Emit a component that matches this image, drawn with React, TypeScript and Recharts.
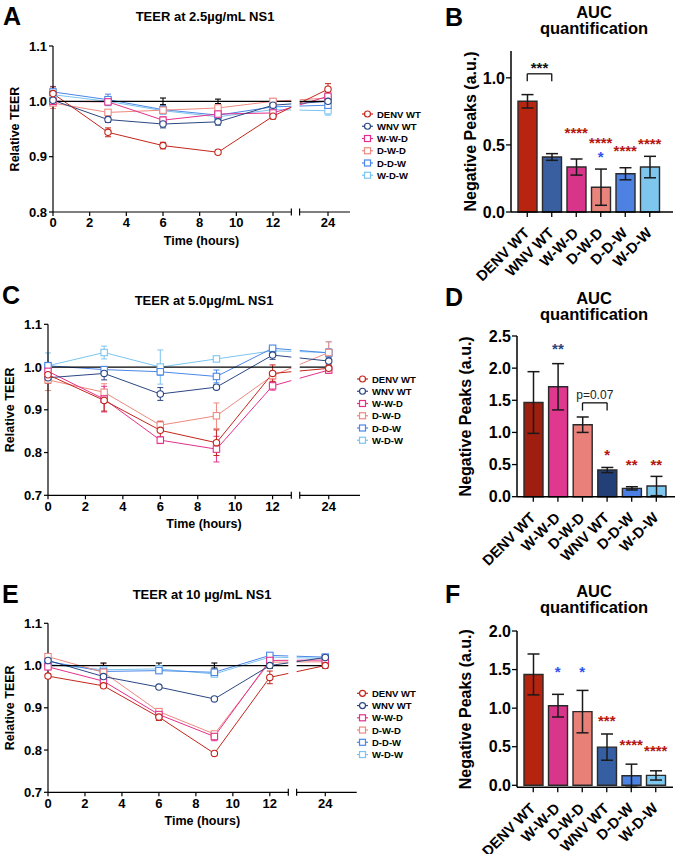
import React from 'react';
import {
  ComposedChart, Line, Bar, Cell, XAxis, YAxis, ErrorBar, Label,
  ReferenceArea, ReferenceLine, ReferenceDot,
} from 'recharts';

const FONT = '"Liberation Sans", Arial, Helvetica, sans-serif';

// ---------------- TEER time courses ----------------
const hours = [0, 3, 6, 9, 12, 24];
const strains = ['DENV WT', 'WNV WT', 'W-W-D', 'D-W-D', 'D-D-W', 'W-D-W'];
const mock = [1, 1, 1, 1, 1, 1];

// 2.5 µg/mL NS1 (rows follow `strains`)
const teer25 = [
  [1.014, 0.944, 0.920, 0.908, 0.973, 1.022],
  [1.002, 0.967, 0.959, 0.963, 0.993, 1.000],
  [1.000, 0.999, 0.966, 0.977, 0.979, 1.009],
  [0.997, 0.980, 0.984, 0.988, 1.000, 1.006],
  [1.017, 1.003, 0.985, 0.975, 0.990, 0.993],
  [1.012, 1.000, 0.983, 0.972, 0.985, 0.983],
];
const teer25Err = [
  [0.012, 0.008, 0.006, 0.004, 0.005, 0.010],
  [0.006, 0.005, 0.007, 0.006, 0.006, 0.006],
  [0.005, 0.004, 0.006, 0.006, 0.005, 0.008],
  [0.010, 0.004, 0.004, 0.004, 0.004, 0.006],
  [0.010, 0.010, 0.008, 0.006, 0.006, 0.006],
  [0.008, 0.008, 0.005, 0.005, 0.005, 0.008],
];
const mock25Err = [0.005, 0.005, 0.006, 0.004, 0.005, 0.005];

// 5.0 µg/mL NS1
const teer50 = [
  [0.982, 0.922, 0.852, 0.823, 0.985, 0.997],
  [0.975, 0.985, 0.937, 0.953, 1.028, 1.014],
  [0.990, 0.925, 0.829, 0.808, 0.956, 0.993],
  [0.970, 0.941, 0.864, 0.886, 0.980, 1.034],
  [1.003, 0.994, 0.989, 0.978, 1.044, 1.033],
  [1.003, 1.034, 1.000, 1.019, 1.038, 1.034],
];
const teer50Err = [
  [0.020, 0.025, 0.020, 0.030, 0.020, 0.008],
  [0.010, 0.015, 0.015, 0.005, 0.010, 0.010],
  [0.020, 0.030, 0.008, 0.030, 0.010, 0.008],
  [0.025, 0.020, 0.010, 0.030, 0.010, 0.025],
  [0.008, 0.005, 0.008, 0.015, 0.005, 0.010],
  [0.030, 0.015, 0.040, 0.005, 0.005, 0.025],
];
const mock50Err = [0, 0, 0, 0, 0, 0];

// 10 µg/mL NS1
const teer10 = [
  [0.975, 0.952, 0.878, 0.792, 0.972, 1.000],
  [1.012, 0.974, 0.949, 0.921, 1.000, 1.019],
  [0.997, 0.963, 0.884, 0.832, 1.012, 1.013],
  [1.021, 0.984, 0.891, 0.838, 1.008, 1.009],
  [1.010, 0.986, 0.988, 0.984, 1.024, 1.020],
  [1.003, 0.990, 0.992, 0.980, 1.020, 1.017],
];
const teer10Err = [
  [0.004, 0.004, 0.008, 0.004, 0.015, 0.004],
  [0.005, 0.005, 0.003, 0.003, 0.005, 0.006],
  [0.005, 0.005, 0.008, 0.010, 0.010, 0.005],
  [0.005, 0.020, 0.005, 0.005, 0.015, 0.005],
  [0.005, 0.005, 0.005, 0.005, 0.005, 0.005],
  [0.004, 0.004, 0.004, 0.004, 0.004, 0.004],
];
const mock10Err = [0.006, 0.006, 0.006, 0.006, 0.006, 0.006];

// ---------------- AUC bars ----------------
const groupsB = ['DENV WT', 'WNV WT', 'W-W-D', 'D-W-D', 'D-D-W', 'W-D-W'];
const aucB = [0.825, 0.41, 0.335, 0.185, 0.285, 0.335];
const aucBErr = [0.05, 0.025, 0.06, 0.135, 0.045, 0.08];

const groupsDF = ['DENV WT', 'W-W-D', 'D-W-D', 'WNV WT', 'D-D-W', 'W-D-W'];
const aucD = [1.465, 1.71, 1.12, 0.415, 0.13, 0.166];
const aucDErr = [0.48, 0.36, 0.12, 0.04, 0.025, 0.15];
const aucF = [1.437, 1.032, 0.955, 0.495, 0.124, 0.128];
const aucFErr = [0.265, 0.147, 0.275, 0.17, 0.15, 0.06];

// significance marks: [group, height (a.u.), stars, tone]
type Sig = [string, number, string, string];
const sigB: Sig[] = [
  ['W-W-D', 0.59, '****', 'r'],
  ['D-W-D', 0.515, '****', 'r'],
  ['D-W-D', 0.41, '*', 'b'],
  ['D-D-W', 0.455, '****', 'r'],
  ['W-D-W', 0.51, '****', 'r'],
];
const sigD: Sig[] = [
  ['W-W-D', 2.31, '**', 'n'],
  ['WNV WT', 0.65, '*', 'r'],
  ['D-D-W', 0.5, '**', 'r'],
  ['W-D-W', 0.5, '**', 'r'],
];
const sigF: Sig[] = [
  ['W-W-D', 1.47, '*', 'b'],
  ['D-W-D', 1.47, '*', 'b'],
  ['WNV WT', 0.835, '***', 'r'],
  ['D-D-W', 0.53, '****', 'r'],
  ['W-D-W', 0.45, '****', 'r'],
];
// brackets: [from, to, height, leg end, label]
type Bracket = [string, string, number, number, string];
const bracketB: Bracket = ['DENV WT', 'WNV WT', 1.03, 0.975, '***'];
const bracketD: Bracket = ['D-W-D', 'WNV WT', 1.46, 1.34, 'p=0.07'];

// ---------------- styles ----------------
const lineColor = ['#c3261b', '#2b4784', '#e3318b', '#ee8a80', '#4a87e8', '#7cc5f0'];
const fillB = ['#b8240f', '#3a5fa0', '#d8358a', '#e8847b', '#4d82e2', '#7fc6ee'];
const fillD = ['#9e1f10', '#e0378f', '#e98079', '#233f78', '#4b7fe3', '#7cc6f0'];
const fillF = ['#b5240f', '#d8368a', '#e88078', '#355fa2', '#4c82e3', '#7ec8ef'];
const tone: Record<string, string> = { r: '#b5160f', b: '#3050f0', n: '#27457f' };

// broken time axis: 13 h … 22.5 h is cut out
const BREAK_FROM = 13;
const BREAK_TO = 13.45;
const SHIFT = 9;
const axisPos = (h: number) => (h > BREAK_FROM ? h - SHIFT : h);
const xTicks = [0, 2, 4, 6, 8, 10, 12, 24].map(axisPos);
const fmtHour = (v: number) => String(v > BREAK_FROM ? v + SHIFT : v);

const boldTick = (size: number) => ({ fontSize: size, fontWeight: 700, fill: '#000', fontFamily: FONT });

const markDot = (s: number) => (p: any) => {
  const c = lineColor[s];
  if (p.cx == null || p.cy == null) return <g key={`d${p.index}`} />;
  return s < 2 ? (
    <circle key={`d${p.index}`} cx={p.cx} cy={p.cy} r={3.2} fill="#fff" stroke={c} strokeWidth={1.1} />
  ) : (
    <rect key={`d${p.index}`} x={p.cx - 3.2} y={p.cy - 3.2} width={6.4} height={6.4} fill="#fff" stroke={c} strokeWidth={1.1} />
  );
};

type TeerProps = {
  vals: number[][]; errs: number[][]; mockErr: number[];
  left: number; top: number; w: number; h: number;
  plotL: number; plotT: number; plotR: number; plotB: number; xMax: number;
  yDomain: [number, number]; yTicks: number[]; yLabelDx: number;
};

function TeerChart(p: TeerProps) {
  const rows = hours.map((hr, i) => {
    const r: Record<string, number> = { pos: axisPos(hr), mock: mock[i], mockErr: p.mockErr[i] };
    strains.forEach((_, s) => {
      r[`s${s}`] = p.vals[s][i];
      r[`e${s}`] = p.errs[s][i];
    });
    return r;
  });
  const [y0, y1] = p.yDomain;
  const xH = 35;
  const perPx = (y1 - y0) / (p.plotB - p.plotT);
  const order = [5, 4, 3, 2, 1, 0];
  return (
    <div style={{ position: 'absolute', left: p.left, top: p.top }}>
      <ComposedChart
        width={p.w}
        height={p.h}
        data={rows}
        margin={{ top: p.plotT, right: p.w - p.plotR, bottom: p.h - p.plotB - xH, left: 0 }}
      >
        <XAxis
          dataKey="pos" type="number" domain={[0, p.xMax]} ticks={xTicks} tickFormatter={fmtHour}
          axisLine={false} tickLine={{ stroke: '#000', strokeWidth: 1.2 }} tickSize={4} tick={boldTick(13)} height={xH}
        >
          <Label value="Time (hours)" position="insideBottom" offset={2.5}
            style={{ fontSize: 12.5, fontWeight: 700, fontFamily: FONT, fill: '#000' }} />
        </XAxis>
        <YAxis
          type="number" domain={p.yDomain} ticks={p.yTicks} tickFormatter={(v: number) => v.toFixed(1)}
          width={p.plotL} axisLine={{ stroke: '#000', strokeWidth: 1.2 }} tickLine={{ stroke: '#000', strokeWidth: 1.2 }}
          tickSize={4} tick={boldTick(13)}
        >
          <Label value="Relative TEER" angle={-90} position="center" dx={p.yLabelDx}
            style={{ fontSize: 12.5, fontWeight: 700, fontFamily: FONT, fill: '#000' }} />
        </YAxis>
        {order.map((s) => (
          <Line key={s} type="linear" dataKey={`s${s}`} stroke={lineColor[s]} strokeWidth={1}
            dot={markDot(s)} activeDot={false} isAnimationActive={false}>
            <ErrorBar dataKey={`e${s}`} direction="y" width={3} stroke={lineColor[s]} strokeWidth={1} />
          </Line>
        ))}
        <Line type="linear" dataKey="mock" stroke="#000" strokeWidth={1.3} dot={false} activeDot={false} isAnimationActive={false}>
          <ErrorBar dataKey="mockErr" direction="y" width={3} stroke="#000" strokeWidth={1.1} />
        </Line>
        <ReferenceArea x1={BREAK_FROM} x2={BREAK_TO} y1={y0} y2={y1} fill="#fff" fillOpacity={1}
          stroke="none" ifOverflow="visible" zIndex={450} />
        <ReferenceLine segment={[{ x: 0, y: y0 }, { x: BREAK_FROM, y: y0 }]} stroke="#000" strokeWidth={1.2} ifOverflow="visible" zIndex={460} />
        <ReferenceLine segment={[{ x: BREAK_TO, y: y0 }, { x: p.xMax, y: y0 }]} stroke="#000" strokeWidth={1.2} ifOverflow="visible" zIndex={460} />
        <ReferenceLine segment={[{ x: BREAK_FROM, y: y0 - 3.5 * perPx }, { x: BREAK_FROM, y: y0 + 3.5 * perPx }]} stroke="#000" strokeWidth={1.2} ifOverflow="visible" zIndex={460} />
        <ReferenceLine segment={[{ x: BREAK_TO, y: y0 - 3.5 * perPx }, { x: BREAK_TO, y: y0 + 3.5 * perPx }]} stroke="#000" strokeWidth={1.2} ifOverflow="visible" zIndex={460} />
      </ComposedChart>
    </div>
  );
}

const SlantTick = (props: any) => {
  const { x, y, payload } = props;
  return (
    <text
      transform={`translate(${x + 3},${y + 15}) rotate(-45)`}
      textAnchor="end"
      fontSize={14.7}
      fontWeight={700}
      fontFamily={FONT}
      fill="#000"
    >
      {payload.value}
    </text>
  );
};

type AucProps = {
  groups: string[]; vals: number[]; errs: number[]; fills: string[]; sig: Sig[];
  left: number; top: number; w: number; h: number;
  plotL: number; plotT: number; plotR: number; plotB: number; padR: number;
  yMax: number; yTicks: number[]; yLabelDx: number;
  bracket?: Bracket;
};

function AucChart(p: AucProps) {
  const rows = p.groups.map((g, i) => ({ name: g, auc: p.vals[i], err: p.errs[i] }));
  const xH = p.h - p.plotB;
  const br = p.bracket;
  const isStars = br ? /^\*+$/.test(br[4]) : false;
  return (
    <div style={{ position: 'absolute', left: p.left, top: p.top }}>
      <ComposedChart
        width={p.w}
        height={p.h}
        data={rows}
        margin={{ top: p.plotT, right: p.w - p.plotR, bottom: 0, left: 0 }}
      >
        <XAxis
          dataKey="name" type="category" interval={0} height={xH} padding={{ left: 4, right: p.padR }}
          axisLine={{ stroke: '#000', strokeWidth: 1.5 }} tickLine={{ stroke: '#000', strokeWidth: 1.3 }}
          tickSize={5} tick={<SlantTick />}
        />
        <YAxis
          type="number" domain={[0, p.yMax]} ticks={p.yTicks} tickFormatter={(v: number) => v.toFixed(1)}
          width={p.plotL} axisLine={{ stroke: '#000', strokeWidth: 1.5 }} tickLine={{ stroke: '#000', strokeWidth: 1.3 }}
          tickSize={5} tickMargin={1} tick={boldTick(16)}
        >
          <Label value="Negative Peaks (a.u.)" angle={-90} position="center" dx={p.yLabelDx}
            style={{ fontSize: 16, fontWeight: 700, fontFamily: FONT, fill: '#000' }} />
        </YAxis>
        <Bar dataKey="auc" barSize={19} stroke="#2a2a2a" strokeWidth={1.4} isAnimationActive={false}>
          {rows.map((r, i) => (
            <Cell key={r.name} fill={p.fills[i]} />
          ))}
          <ErrorBar dataKey="err" direction="y" width={6} stroke="#1a1a1a" strokeWidth={1.5} />
        </Bar>
        {br && (
          <ReferenceLine
            segment={[{ x: br[0], y: br[2] }, { x: br[1], y: br[2] }]} stroke="#111" strokeWidth={1.3}
            label={{
              value: br[4], position: 'top', offset: isStars ? 1 : 4, fill: isStars ? '#111' : '#222',
              fontSize: isStars ? 15 : 12, fontWeight: isStars ? 700 : 400, fontFamily: FONT,
            }}
          />
        )}
        {br && <ReferenceLine segment={[{ x: br[0], y: br[2] }, { x: br[0], y: br[3] }]} stroke="#111" strokeWidth={1.3} />}
        {br && <ReferenceLine segment={[{ x: br[1], y: br[2] }, { x: br[1], y: br[3] }]} stroke="#111" strokeWidth={1.3} />}
        {p.sig.map(([g, y, txt, t], i) => (
          <ReferenceDot key={i} x={g} y={y} r={0} ifOverflow="visible"
            label={{ value: txt, position: 'center', fill: tone[t], fontSize: 15, fontWeight: 700, fontFamily: FONT }} />
        ))}
      </ComposedChart>
    </div>
  );
}

function TeerLegend({ x, y, textX }: { x: number; y: number; textX: number }) {
  return (
    <>
      {strains.map((s, i) => {
        const cy = y + i * 12.25;
        const c = lineColor[i];
        return (
          <g key={s}>
            <line x1={x} x2={x + 11} y1={cy} y2={cy} stroke={c} strokeWidth={1.2} />
            {i < 2 ? (
              <circle cx={x + 5.5} cy={cy} r={3} fill="#fff" stroke={c} strokeWidth={1.2} />
            ) : (
              <rect x={x + 2.5} y={cy - 3} width={6} height={6} fill="#fff" stroke={c} strokeWidth={1.2} />
            )}
            <text x={textX} y={cy + 3.5} fontSize={9.5} fontWeight={700} fontFamily={FONT} fill="#000">{s}</text>
          </g>
        );
      })}
    </>
  );
}

export default function App() {
  const letter = { fontSize: 25, fontWeight: 700, fontFamily: FONT, fill: '#000' } as const;
  const title = { fontSize: 13, fontWeight: 700, fontFamily: FONT, fill: '#000', textAnchor: 'middle' } as const;
  const auc = { fontSize: 16.5, fontWeight: 700, fontFamily: FONT, fill: '#000', textAnchor: 'middle' } as const;
  return (
    <div style={{ position: 'absolute', left: 0, top: 0, width: 675, height: 854, background: '#fff', overflow: 'hidden' }}>
      <svg width={675} height={854} style={{ position: 'absolute', left: 0, top: 0 }}>
        <text x={3} y={25} {...letter}>A</text>
        <text x={445} y={26} {...letter}>B</text>
        <text x={2} y={304} {...letter}>C</text>
        <text x={445} y={306} {...letter}>D</text>
        <text x={2} y={603} {...letter}>E</text>
        <text x={445} y={603} {...letter}>F</text>
        <text x={205} y={20.5} {...title}>TEER at 2.5µg/mL NS1</text>
        <text x={204} y={305} {...title}>TEER at 5.0µg/mL NS1</text>
        <text x={202} y={599} {...title}>TEER at 10 µg/mL NS1</text>
        <text x={594} y={17.5} {...auc}>AUC</text>
        <text x={594} y={33.5} {...auc}>quantification</text>
        <text x={594} y={304} {...auc}>AUC</text>
        <text x={594} y={320} {...auc}>quantification</text>
        <text x={594} y={596.5} {...auc}>AUC</text>
        <text x={594} y={613} {...auc}>quantification</text>
        <TeerLegend x={362} y={114} textX={377} />
        <TeerLegend x={357} y={379} textX={372} />
        <TeerLegend x={357} y={693.3} textX={372} />
      </svg>

      <TeerChart vals={teer25} errs={teer25Err} mockErr={mock25Err}
        left={0} top={0} w={360} h={255} plotL={53} plotT={46} plotR={350} plotB={212} xMax={16.2}
        yDomain={[0.8, 1.1]} yTicks={[0.8, 0.9, 1.0, 1.1]} yLabelDx={-12} />
      <TeerChart vals={teer50} errs={teer50Err} mockErr={mock50Err}
        left={0} top={280} w={368} h={255} plotL={48} plotT={44.3} plotR={360} plotB={215.3} xMax={16.67}
        yDomain={[0.7, 1.1]} yTicks={[0.7, 0.8, 0.9, 1.0, 1.1]} yLabelDx={-14} />
      <TeerChart vals={teer10} errs={teer10Err} mockErr={mock10Err}
        left={0} top={570} w={365} h={262} plotL={48} plotT={53.3} plotR={356.7} plotB={222.3} xMax={16.7}
        yDomain={[0.7, 1.1]} yTicks={[0.7, 0.8, 0.9, 1.0, 1.1]} yLabelDx={-14} />

      <AucChart groups={groupsB} vals={aucB} errs={aucBErr} fills={fillB} sig={sigB}
        left={420} top={0} w={255} h={290} plotL={91} plotT={51} plotR={253} plotB={212} padR={11}
        yMax={1.2} yTicks={[0, 0.5, 1.0]} yLabelDx={4.5} bracket={bracketB} />
      <AucChart groups={groupsDF} vals={aucD} errs={aucDErr} fills={fillD} sig={sigD}
        left={420} top={280} w={255} h={294} plotL={97} plotT={56} plotR={255} plotB={216.7} padR={6.4}
        yMax={2.5} yTicks={[0, 0.5, 1.0, 1.5, 2.0, 2.5]} yLabelDx={-3.5} bracket={bracketD} />
      <AucChart groups={groupsDF} vals={aucF} errs={aucFErr} fills={fillF} sig={sigF}
        left={420} top={570} w={255} h={284} plotL={97} plotT={61} plotR={253} plotB={217.3} padR={5}
        yMax={2.0} yTicks={[0, 0.5, 1.0, 1.5, 2.0]} yLabelDx={-3.5} />
    </div>
  );
}
